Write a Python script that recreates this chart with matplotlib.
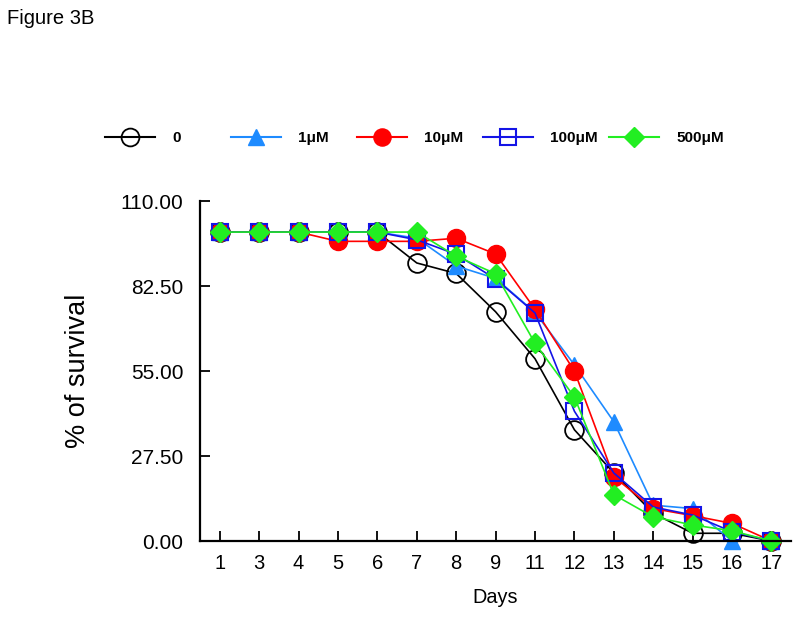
import numpy as np
import matplotlib.pyplot as plt
from matplotlib.lines import Line2D

plt.rcParams['font.family'] = ['Liberation Sans', 'DejaVu Sans']

days = ['1', '3', '4', '5', '6', '7', '8', '9', '11', '12', '13', '14', '15', '16', '17']

surv_0 = [100, 100, 100, 100, 100, 90, 86.6, 74.2, 59, 36, 22, 9, 2.5, 2.5, 0]
surv_1uM = [100, 100, 100, 100, 100, 98, 89, 85, 74, 57, 38.6, 11.6, 10.5, 0, 0]
surv_10uM = [100, 100, 100, 97, 97, 97, 98, 92.9, 75, 55, 20.8, 10.5, 8.2, 5.7, 0]
surv_100uM = [100, 100, 100, 100, 100, 97.5, 92.8, 84.8, 73.8, 42, 22, 11, 8.4, 3, 0]
surv_500uM = [100, 100, 100, 100, 100, 100, 92.2, 86.5, 64, 46.6, 15, 7.8, 5.2, 3.3, 0]

labels = ['0', '1\u03bcM', '10\u03bcM', '100\u03bcM', '500\u03bcM']
yticks = [0, 27.5, 55, 82.5, 110]

styles = [
    dict(color='black', marker='o', mfc='none', mec='black', ms=13.5, mew=1.3),
    dict(color='#1e8bff', marker='^', mfc='#1e8bff', mec='#1e8bff', ms=12),
    dict(color='#ff0000', marker='o', mfc='#ff0000', mec='#ff0000', ms=13),
    dict(color='#1414e6', marker='s', mfc='none', mec='#1414e6', ms=12, mew=1.5),
    dict(color='#22ee22', marker='D', mfc='#22ee22', mec='#22ee22', ms=10.5),
]
series = [surv_0, surv_1uM, surv_10uM, surv_100uM, surv_500uM]

fig = plt.figure(figsize=(8, 6.19), dpi=100)
ax = fig.add_axes([0.25, 0.126, 0.739, 0.549])

x = np.arange(len(days))
lines = []
for vals, st in zip(series, styles):
    ln, = ax.plot(x, vals, lw=1.2, clip_on=False, **st)
    lines.append(ln)

ax.set_xlim(-0.5, len(days) - 0.5)
ax.set_ylim(0, 110)
ax.set_xticks(x)
ax.set_xticklabels(days, fontsize=14.5)
ax.set_yticks(yticks)
ax.set_yticklabels(['%.2f' % v for v in yticks], fontsize=15)
ax.tick_params(direction='in', length=7, width=1.3, colors='black')
ax.tick_params(axis='x', pad=9)
ax.tick_params(axis='y', pad=12)
for s in ['top', 'right']:
    ax.spines[s].set_visible(False)
for s in ['left', 'bottom']:
    ax.spines[s].set_linewidth(1.6)

ax.set_xlabel('Days', fontsize=14.3, labelpad=11)
ax.set_ylabel('% of survival', fontsize=19.5, labelpad=21)

# legend row, one entry per series, evenly spaced
for i, (ln, lab) in enumerate(zip(lines, labels)):
    h = Line2D([], [], color=ln.get_color(), lw=1.5, marker=ln.get_marker(),
               mfc=ln.get_markerfacecolor(), mec=ln.get_markeredgecolor(),
               ms=ln.get_markersize() * 0.95, mew=ln.get_markeredgewidth())
    fig.legend(handles=[h], labels=[lab], loc='center left',
               bbox_to_anchor=(0.114 + i * 0.1575, 0.777), frameon=False,
               handlelength=3.3, handletextpad=1.1,
               prop=dict(size=11, weight='bold'))

fig.text(0.009, 0.97, 'Figure 3B', fontsize=14.5, ha='left', va='center')

fig.savefig('out.png', dpi=100)
